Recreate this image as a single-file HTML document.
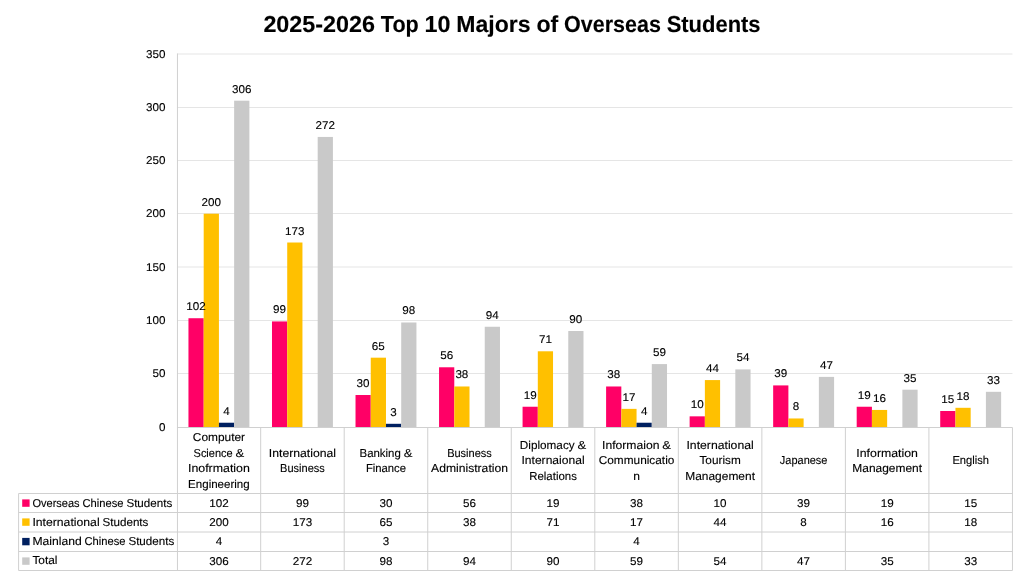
<!DOCTYPE html>
<html><head><meta charset="utf-8"><title>2025-2026 Top 10 Majors of Overseas Students</title>
<style>
html,body{margin:0;padding:0;background:#fff;overflow:hidden}
svg{display:block;font-family:"Liberation Sans",sans-serif;text-rendering:geometricPrecision}
</style></head><body>
<svg width="1024" height="576" viewBox="0 0 1024 576">
<rect width="1024" height="576" fill="#fff"/>
<g stroke="#E5E5E5" stroke-width="1">
<line x1="177.15" y1="373.50" x2="1012.45" y2="373.50"/>
<line x1="177.15" y1="320.50" x2="1012.45" y2="320.50"/>
<line x1="177.15" y1="267.00" x2="1012.45" y2="267.00"/>
<line x1="177.15" y1="213.50" x2="1012.45" y2="213.50"/>
<line x1="177.15" y1="160.50" x2="1012.45" y2="160.50"/>
<line x1="177.15" y1="107.50" x2="1012.45" y2="107.50"/>
<line x1="177.15" y1="54.00" x2="1012.45" y2="54.00"/>
</g>
<rect x="188.46" y="318.23" width="15.23" height="109.27" fill="#FF0066"/>
<rect x="203.69" y="213.72" width="15.23" height="213.78" fill="#FFC000"/>
<rect x="218.92" y="422.73" width="15.23" height="4.77" fill="#002060"/>
<rect x="234.15" y="100.68" width="15.23" height="326.82" fill="#C9C9C9"/>
<rect x="271.99" y="321.43" width="15.23" height="106.07" fill="#FF0066"/>
<rect x="287.22" y="242.51" width="15.23" height="184.99" fill="#FFC000"/>
<rect x="317.68" y="136.94" width="15.23" height="290.56" fill="#C9C9C9"/>
<rect x="355.52" y="395.01" width="15.23" height="32.49" fill="#FF0066"/>
<rect x="370.75" y="357.68" width="15.23" height="69.82" fill="#FFC000"/>
<rect x="385.98" y="423.80" width="15.23" height="3.70" fill="#002060"/>
<rect x="401.21" y="322.49" width="15.23" height="105.01" fill="#C9C9C9"/>
<rect x="439.05" y="367.28" width="15.23" height="60.22" fill="#FF0066"/>
<rect x="454.28" y="386.48" width="15.23" height="41.02" fill="#FFC000"/>
<rect x="484.74" y="326.76" width="15.23" height="100.74" fill="#C9C9C9"/>
<rect x="522.57" y="406.74" width="15.23" height="20.76" fill="#FF0066"/>
<rect x="537.80" y="351.29" width="15.23" height="76.21" fill="#FFC000"/>
<rect x="568.26" y="331.02" width="15.23" height="96.48" fill="#C9C9C9"/>
<rect x="606.10" y="386.48" width="15.23" height="41.02" fill="#FF0066"/>
<rect x="621.33" y="408.87" width="15.23" height="18.63" fill="#FFC000"/>
<rect x="636.56" y="422.73" width="15.23" height="4.77" fill="#002060"/>
<rect x="651.79" y="364.08" width="15.23" height="63.42" fill="#C9C9C9"/>
<rect x="689.63" y="416.34" width="15.23" height="11.16" fill="#FF0066"/>
<rect x="704.87" y="380.08" width="15.23" height="47.42" fill="#FFC000"/>
<rect x="735.33" y="369.41" width="15.23" height="58.09" fill="#C9C9C9"/>
<rect x="773.16" y="385.41" width="15.23" height="42.09" fill="#FF0066"/>
<rect x="788.39" y="418.47" width="15.23" height="9.03" fill="#FFC000"/>
<rect x="818.86" y="376.88" width="15.23" height="50.62" fill="#C9C9C9"/>
<rect x="856.69" y="406.74" width="15.23" height="20.76" fill="#FF0066"/>
<rect x="871.92" y="409.94" width="15.23" height="17.56" fill="#FFC000"/>
<rect x="902.38" y="389.68" width="15.23" height="37.82" fill="#C9C9C9"/>
<rect x="940.22" y="411.00" width="15.23" height="16.50" fill="#FF0066"/>
<rect x="955.45" y="407.80" width="15.23" height="19.70" fill="#FFC000"/>
<rect x="985.91" y="391.81" width="15.23" height="35.69" fill="#C9C9C9"/>
<g stroke="#D0D0D0" stroke-width="1" fill="none">
<line x1="177.45" y1="53.5" x2="177.45" y2="570.5"/>
<line x1="177.15" y1="427.5" x2="1012.45" y2="427.5"/>
<line x1="260.68" y1="427.5" x2="260.68" y2="570.5"/>
<line x1="344.21" y1="427.5" x2="344.21" y2="570.5"/>
<line x1="427.74" y1="427.5" x2="427.74" y2="570.5"/>
<line x1="511.27" y1="427.5" x2="511.27" y2="570.5"/>
<line x1="594.80" y1="427.5" x2="594.80" y2="570.5"/>
<line x1="678.33" y1="427.5" x2="678.33" y2="570.5"/>
<line x1="761.86" y1="427.5" x2="761.86" y2="570.5"/>
<line x1="845.39" y1="427.5" x2="845.39" y2="570.5"/>
<line x1="928.92" y1="427.5" x2="928.92" y2="570.5"/>
<line x1="1012.45" y1="427.5" x2="1012.45" y2="570.5"/>
<line x1="18.6" y1="493.5" x2="1012.45" y2="493.5"/>
<line x1="18.6" y1="512.5" x2="1012.45" y2="512.5"/>
<line x1="18.6" y1="532.0" x2="1012.45" y2="532.0"/>
<line x1="18.6" y1="551.5" x2="1012.45" y2="551.5"/>
<line x1="18.6" y1="570.5" x2="1012.45" y2="570.5"/>
<line x1="18.6" y1="493.5" x2="18.6" y2="570.5"/>
</g>
<g fill="#000" stroke="#000" stroke-width="0.12">
<text y="31.80" font-size="23.1" font-weight="700"><tspan x="263.40" textLength="111.64" lengthAdjust="spacingAndGlyphs">2025-2026</tspan> <tspan x="380.83" textLength="37.96" lengthAdjust="spacingAndGlyphs">Top</tspan> <tspan x="424.58" textLength="25.95" lengthAdjust="spacingAndGlyphs">10</tspan> <tspan x="456.32" textLength="74.31" lengthAdjust="spacingAndGlyphs">Majors</tspan> <tspan x="536.42" textLength="21.86" lengthAdjust="spacingAndGlyphs">of</tspan> <tspan x="564.07" textLength="96.81" lengthAdjust="spacingAndGlyphs">Overseas</tspan> <tspan x="666.67" textLength="93.93" lengthAdjust="spacingAndGlyphs">Students</tspan></text>
<text x="159.11" y="431.40" font-size="11.3" textLength="6.49" lengthAdjust="spacingAndGlyphs">0</text>
<text x="152.62" y="377.40" font-size="11.3" textLength="12.98" lengthAdjust="spacingAndGlyphs">50</text>
<text x="146.14" y="324.40" font-size="11.3" textLength="19.46" lengthAdjust="spacingAndGlyphs">100</text>
<text x="146.14" y="270.90" font-size="11.3" textLength="19.46" lengthAdjust="spacingAndGlyphs">150</text>
<text x="146.14" y="217.40" font-size="11.3" textLength="19.46" lengthAdjust="spacingAndGlyphs">200</text>
<text x="146.14" y="164.40" font-size="11.3" textLength="19.46" lengthAdjust="spacingAndGlyphs">250</text>
<text x="146.14" y="111.40" font-size="11.3" textLength="19.46" lengthAdjust="spacingAndGlyphs">300</text>
<text x="146.14" y="57.90" font-size="11.3" textLength="19.46" lengthAdjust="spacingAndGlyphs">350</text>
<text x="186.34" y="310.23" font-size="11.3" textLength="19.46" lengthAdjust="spacingAndGlyphs">102</text>
<text x="201.57" y="205.72" font-size="11.3" textLength="19.46" lengthAdjust="spacingAndGlyphs">200</text>
<text x="223.29" y="414.73" font-size="11.3" textLength="6.49" lengthAdjust="spacingAndGlyphs">4</text>
<text x="232.03" y="92.68" font-size="11.3" textLength="19.46" lengthAdjust="spacingAndGlyphs">306</text>
<text x="192.80" y="440.97" font-size="11.5" textLength="52.23" lengthAdjust="spacingAndGlyphs">Computer</text>
<text y="456.59" font-size="11.5"><tspan x="193.55" textLength="39.11" lengthAdjust="spacingAndGlyphs">Science</tspan> <tspan x="235.55" textLength="8.73" lengthAdjust="spacingAndGlyphs">&amp;</tspan></text>
<text x="187.96" y="472.21" font-size="11.5" textLength="61.91" lengthAdjust="spacingAndGlyphs">Inofrmation</text>
<text x="188.14" y="487.83" font-size="11.5" textLength="61.55" lengthAdjust="spacingAndGlyphs">Engineering</text>
<text x="209.18" y="507.00" font-size="11.3" textLength="19.46" lengthAdjust="spacingAndGlyphs">102</text>
<text x="209.18" y="526.00" font-size="11.3" textLength="19.46" lengthAdjust="spacingAndGlyphs">200</text>
<text x="215.67" y="545.40" font-size="11.3" textLength="6.49" lengthAdjust="spacingAndGlyphs">4</text>
<text x="209.18" y="564.70" font-size="11.3" textLength="19.46" lengthAdjust="spacingAndGlyphs">306</text>
<text x="273.11" y="313.43" font-size="11.3" textLength="12.98" lengthAdjust="spacingAndGlyphs">99</text>
<text x="285.10" y="234.51" font-size="11.3" textLength="19.46" lengthAdjust="spacingAndGlyphs">173</text>
<text x="315.56" y="128.94" font-size="11.3" textLength="19.46" lengthAdjust="spacingAndGlyphs">272</text>
<text x="268.83" y="456.59" font-size="11.5" textLength="67.23" lengthAdjust="spacingAndGlyphs">International</text>
<text x="280.08" y="472.21" font-size="11.5" textLength="44.74" lengthAdjust="spacingAndGlyphs">Business</text>
<text x="295.96" y="507.00" font-size="11.3" textLength="12.98" lengthAdjust="spacingAndGlyphs">99</text>
<text x="292.71" y="526.00" font-size="11.3" textLength="19.46" lengthAdjust="spacingAndGlyphs">173</text>
<text x="292.71" y="564.70" font-size="11.3" textLength="19.46" lengthAdjust="spacingAndGlyphs">272</text>
<text x="356.64" y="387.01" font-size="11.3" textLength="12.98" lengthAdjust="spacingAndGlyphs">30</text>
<text x="371.87" y="349.68" font-size="11.3" textLength="12.98" lengthAdjust="spacingAndGlyphs">65</text>
<text x="390.35" y="415.80" font-size="11.3" textLength="6.49" lengthAdjust="spacingAndGlyphs">3</text>
<text x="402.33" y="314.49" font-size="11.3" textLength="12.98" lengthAdjust="spacingAndGlyphs">98</text>
<text y="456.59" font-size="11.5"><tspan x="359.50" textLength="41.33" lengthAdjust="spacingAndGlyphs">Banking</tspan> <tspan x="403.72" textLength="8.73" lengthAdjust="spacingAndGlyphs">&amp;</tspan></text>
<text x="365.88" y="472.21" font-size="11.5" textLength="40.18" lengthAdjust="spacingAndGlyphs">Finance</text>
<text x="379.49" y="507.00" font-size="11.3" textLength="12.98" lengthAdjust="spacingAndGlyphs">30</text>
<text x="379.49" y="526.00" font-size="11.3" textLength="12.98" lengthAdjust="spacingAndGlyphs">65</text>
<text x="382.73" y="545.40" font-size="11.3" textLength="6.49" lengthAdjust="spacingAndGlyphs">3</text>
<text x="379.49" y="564.70" font-size="11.3" textLength="12.98" lengthAdjust="spacingAndGlyphs">98</text>
<text x="440.17" y="359.28" font-size="11.3" textLength="12.98" lengthAdjust="spacingAndGlyphs">56</text>
<text x="455.40" y="378.48" font-size="11.3" textLength="12.98" lengthAdjust="spacingAndGlyphs">38</text>
<text x="485.86" y="318.76" font-size="11.3" textLength="12.98" lengthAdjust="spacingAndGlyphs">94</text>
<text x="447.14" y="456.59" font-size="11.5" textLength="44.74" lengthAdjust="spacingAndGlyphs">Business</text>
<text x="431.04" y="472.21" font-size="11.5" textLength="76.93" lengthAdjust="spacingAndGlyphs">Administration</text>
<text x="463.02" y="507.00" font-size="11.3" textLength="12.98" lengthAdjust="spacingAndGlyphs">56</text>
<text x="463.02" y="526.00" font-size="11.3" textLength="12.98" lengthAdjust="spacingAndGlyphs">38</text>
<text x="463.02" y="564.70" font-size="11.3" textLength="12.98" lengthAdjust="spacingAndGlyphs">94</text>
<text x="523.70" y="398.74" font-size="11.3" textLength="12.98" lengthAdjust="spacingAndGlyphs">19</text>
<text x="538.93" y="343.29" font-size="11.3" textLength="12.98" lengthAdjust="spacingAndGlyphs">71</text>
<text x="569.39" y="323.02" font-size="11.3" textLength="12.98" lengthAdjust="spacingAndGlyphs">90</text>
<text y="448.78" font-size="11.5"><tspan x="519.83" textLength="54.79" lengthAdjust="spacingAndGlyphs">Diplomacy</tspan> <tspan x="577.51" textLength="8.73" lengthAdjust="spacingAndGlyphs">&amp;</tspan></text>
<text x="521.46" y="464.40" font-size="11.5" textLength="63.15" lengthAdjust="spacingAndGlyphs">Internaional</text>
<text x="529.21" y="480.02" font-size="11.5" textLength="47.66" lengthAdjust="spacingAndGlyphs">Relations</text>
<text x="546.55" y="507.00" font-size="11.3" textLength="12.98" lengthAdjust="spacingAndGlyphs">19</text>
<text x="546.55" y="526.00" font-size="11.3" textLength="12.98" lengthAdjust="spacingAndGlyphs">71</text>
<text x="546.55" y="564.70" font-size="11.3" textLength="12.98" lengthAdjust="spacingAndGlyphs">90</text>
<text x="607.23" y="378.48" font-size="11.3" textLength="12.98" lengthAdjust="spacingAndGlyphs">38</text>
<text x="622.46" y="400.87" font-size="11.3" textLength="12.98" lengthAdjust="spacingAndGlyphs">17</text>
<text x="640.94" y="414.73" font-size="11.3" textLength="6.49" lengthAdjust="spacingAndGlyphs">4</text>
<text x="652.92" y="356.08" font-size="11.3" textLength="12.98" lengthAdjust="spacingAndGlyphs">59</text>
<text y="448.78" font-size="11.5"><tspan x="602.01" textLength="57.49" lengthAdjust="spacingAndGlyphs">Informaion</tspan> <tspan x="662.39" textLength="8.73" lengthAdjust="spacingAndGlyphs">&amp;</tspan></text>
<text x="598.76" y="464.40" font-size="11.5" textLength="75.61" lengthAdjust="spacingAndGlyphs">Communicatio</text>
<text x="633.20" y="480.02" font-size="11.5" textLength="6.72" lengthAdjust="spacingAndGlyphs">n</text>
<text x="630.08" y="507.00" font-size="11.3" textLength="12.98" lengthAdjust="spacingAndGlyphs">38</text>
<text x="630.08" y="526.00" font-size="11.3" textLength="12.98" lengthAdjust="spacingAndGlyphs">17</text>
<text x="633.32" y="545.40" font-size="11.3" textLength="6.49" lengthAdjust="spacingAndGlyphs">4</text>
<text x="630.08" y="564.70" font-size="11.3" textLength="12.98" lengthAdjust="spacingAndGlyphs">59</text>
<text x="690.76" y="408.34" font-size="11.3" textLength="12.98" lengthAdjust="spacingAndGlyphs">10</text>
<text x="705.99" y="372.08" font-size="11.3" textLength="12.98" lengthAdjust="spacingAndGlyphs">44</text>
<text x="736.45" y="361.41" font-size="11.3" textLength="12.98" lengthAdjust="spacingAndGlyphs">54</text>
<text x="686.48" y="448.78" font-size="11.5" textLength="67.23" lengthAdjust="spacingAndGlyphs">International</text>
<text x="699.49" y="464.40" font-size="11.5" textLength="41.21" lengthAdjust="spacingAndGlyphs">Tourism</text>
<text x="685.24" y="480.02" font-size="11.5" textLength="69.71" lengthAdjust="spacingAndGlyphs">Management</text>
<text x="713.61" y="507.00" font-size="11.3" textLength="12.98" lengthAdjust="spacingAndGlyphs">10</text>
<text x="713.61" y="526.00" font-size="11.3" textLength="12.98" lengthAdjust="spacingAndGlyphs">44</text>
<text x="713.61" y="564.70" font-size="11.3" textLength="12.98" lengthAdjust="spacingAndGlyphs">54</text>
<text x="774.29" y="377.41" font-size="11.3" textLength="12.98" lengthAdjust="spacingAndGlyphs">39</text>
<text x="792.77" y="410.47" font-size="11.3" textLength="6.49" lengthAdjust="spacingAndGlyphs">8</text>
<text x="819.98" y="368.88" font-size="11.3" textLength="12.98" lengthAdjust="spacingAndGlyphs">47</text>
<text x="779.86" y="464.40" font-size="11.5" textLength="47.54" lengthAdjust="spacingAndGlyphs">Japanese</text>
<text x="797.14" y="507.00" font-size="11.3" textLength="12.98" lengthAdjust="spacingAndGlyphs">39</text>
<text x="800.38" y="526.00" font-size="11.3" textLength="6.49" lengthAdjust="spacingAndGlyphs">8</text>
<text x="797.14" y="564.70" font-size="11.3" textLength="12.98" lengthAdjust="spacingAndGlyphs">47</text>
<text x="857.82" y="398.74" font-size="11.3" textLength="12.98" lengthAdjust="spacingAndGlyphs">19</text>
<text x="873.05" y="401.94" font-size="11.3" textLength="12.98" lengthAdjust="spacingAndGlyphs">16</text>
<text x="903.51" y="381.68" font-size="11.3" textLength="12.98" lengthAdjust="spacingAndGlyphs">35</text>
<text x="856.37" y="456.59" font-size="11.5" textLength="61.57" lengthAdjust="spacingAndGlyphs">Information</text>
<text x="852.30" y="472.21" font-size="11.5" textLength="69.71" lengthAdjust="spacingAndGlyphs">Management</text>
<text x="880.67" y="507.00" font-size="11.3" textLength="12.98" lengthAdjust="spacingAndGlyphs">19</text>
<text x="880.67" y="526.00" font-size="11.3" textLength="12.98" lengthAdjust="spacingAndGlyphs">16</text>
<text x="880.67" y="564.70" font-size="11.3" textLength="12.98" lengthAdjust="spacingAndGlyphs">35</text>
<text x="941.35" y="403.00" font-size="11.3" textLength="12.98" lengthAdjust="spacingAndGlyphs">15</text>
<text x="956.58" y="399.80" font-size="11.3" textLength="12.98" lengthAdjust="spacingAndGlyphs">18</text>
<text x="987.04" y="383.81" font-size="11.3" textLength="12.98" lengthAdjust="spacingAndGlyphs">33</text>
<text x="952.38" y="464.40" font-size="11.5" textLength="36.61" lengthAdjust="spacingAndGlyphs">English</text>
<text x="964.20" y="507.00" font-size="11.3" textLength="12.98" lengthAdjust="spacingAndGlyphs">15</text>
<text x="964.20" y="526.00" font-size="11.3" textLength="12.98" lengthAdjust="spacingAndGlyphs">18</text>
<text x="964.20" y="564.70" font-size="11.3" textLength="12.98" lengthAdjust="spacingAndGlyphs">33</text>
<text y="507.00" font-size="11.5"><tspan x="32.40" textLength="47.26" lengthAdjust="spacingAndGlyphs">Overseas</tspan> <tspan x="82.55" textLength="40.96" lengthAdjust="spacingAndGlyphs">Chinese</tspan> <tspan x="126.40" textLength="45.89" lengthAdjust="spacingAndGlyphs">Students</tspan></text>
<text y="526.00" font-size="11.5"><tspan x="32.40" textLength="67.23" lengthAdjust="spacingAndGlyphs">International</tspan> <tspan x="102.52" textLength="45.89" lengthAdjust="spacingAndGlyphs">Students</tspan></text>
<text y="545.30" font-size="11.5"><tspan x="32.40" textLength="49.26" lengthAdjust="spacingAndGlyphs">Mainland</tspan> <tspan x="84.55" textLength="40.96" lengthAdjust="spacingAndGlyphs">Chinese</tspan> <tspan x="128.40" textLength="45.89" lengthAdjust="spacingAndGlyphs">Students</tspan></text>
<text x="32.40" y="564.40" font-size="11.5" textLength="25.05" lengthAdjust="spacingAndGlyphs">Total</text>
</g>
<rect x="22.2" y="499.40" width="7.4" height="7.4" fill="#FF0066"/>
<rect x="22.2" y="518.40" width="7.4" height="7.4" fill="#FFC000"/>
<rect x="22.2" y="537.90" width="7.4" height="7.4" fill="#002060"/>
<rect x="22.2" y="557.40" width="7.4" height="7.4" fill="#C9C9C9"/>
</svg>
</body></html>
